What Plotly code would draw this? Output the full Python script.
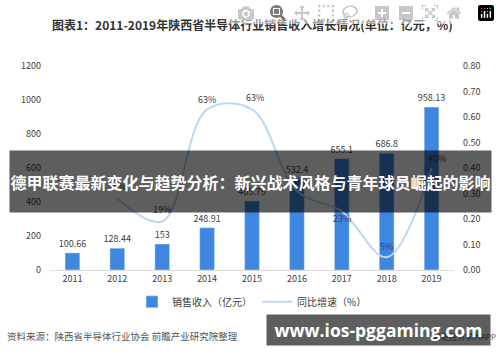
import plotly.graph_objects as go

years = ["2011", "2012", "2013", "2014", "2015", "2016", "2017", "2018", "2019"]
revenue = [100.66, 128.44, 153, 248.91, 405.79, 532.4, 655.1, 686.8, 958.13]
revenue_labels = ["100.66", "128.44", "153", "248.91", "405.79", "532.4", "655.1", "686.8", "958.13"]
growth_years = ["2012", "2013", "2014", "2015", "2016", "2017", "2018", "2019"]
growth = [0.28, 0.19, 0.63, 0.63, 0.31, 0.23, 0.05, 0.40]
growth_labels = ["28%", "19%", "63%", "63%", "31%", "23%", "5%", "40%"]
left_ticks = [0, 200, 400, 600, 800, 1000, 1200]
right_ticks = [0.0, 0.1, 0.2, 0.3, 0.4, 0.5, 0.6, 0.7, 0.8]

# label offsets (pixels) for the growth labels
label_dy = [12, 12, 10, 12, 10, -7, 11, 10]
label_dx = [0, 0, 0, 3, 0, 0, 0, 5]

FONT = "Noto Sans CJK SC, Noto Sans, sans-serif"
TXT = "#404040"

fig = go.Figure()
fig.add_trace(go.Bar(
    x=years, y=revenue, name="销售收入（亿元）",
    marker=dict(color="#3f86e0"), width=0.33,
    text=revenue_labels, textposition="outside", cliponaxis=False, constraintext="none",
    textfont=dict(size=9, color=TXT, family=FONT),
))
fig.add_trace(go.Scatter(
    x=growth_years, y=growth, name="同比增速（%）", yaxis="y2",
    mode="lines", line=dict(color="#bcd6f6", width=2, shape="spline", smoothing=1.0),
))

annotations = []
for yr, g, lab, dy, dx in zip(growth_years, growth, growth_labels, label_dy, label_dx):
    annotations.append(dict(text=lab, x=years.index(yr), y=g, xref="x", yref="y2",
                            yshift=dy, xshift=dx, showarrow=False,
                            font=dict(size=9, color=TXT, family=FONT)))

annotations += [
    dict(text="<b>图表1：2011-2019年陕西省半导体行业销售收入增长情况(单位：亿元，%)</b>",
         xref="paper", yref="paper", x=0.5, y=1.0, yshift=42, xanchor="center",
         yanchor="middle", showarrow=False, font=dict(size=12, color="#333333", family=FONT)),
    dict(text="资料来源：陕西省半导体行业协会 前瞻产业研究院整理",
         xref="paper", yref="paper", x=-0.111, y=0, yshift=-66, xanchor="left",
         yanchor="middle", showarrow=False, font=dict(size=9.5, color="#555555", family=FONT)),
    dict(text="前瞻经济学人APP", xref="paper", yref="paper", x=1.11, y=0, yshift=-66,
         xanchor="right", yanchor="middle", showarrow=False,
         font=dict(size=8, color="#555555", family=FONT)),
    # overlay banner (drawn last so it covers labels beneath)
    dict(text="<b>德甲联赛最新变化与趋势分析：新兴战术风格与青年球员崛起的影响</b>",
         xref="paper", yref="paper", x=0.4975, y=0.433, xanchor="center", yanchor="middle",
         width=481, height=61, bgcolor="rgba(0,0,0,0.63)", borderpad=0, showarrow=False,
         font=dict(size=16, color="white", family=FONT)),
    dict(text="<b>www.ios-pggaming.com</b>", xref="paper", yref="paper",
         x=0.814, y=-0.294, xanchor="center", yanchor="middle",
         width=223, height=30, bgcolor="rgba(0,0,0,0.63)", borderpad=0, showarrow=False,
         font=dict(size=17.5, color="white", family="Open Sans, sans-serif")),
]

fig.update_layout(
    width=500, height=362,
    margin=dict(l=50, r=46, t=66, b=92, autoexpand=False),
    paper_bgcolor="white", plot_bgcolor="white",
    font=dict(family=FONT, size=9, color=TXT),
    showlegend=True,
    legend=dict(orientation="h", x=0.5, xanchor="center", y=-0.085, yanchor="top",
                font=dict(size=10, color=TXT, family=FONT), itemwidth=30, traceorder="normal"),
    xaxis=dict(type="category", categoryorder="array", categoryarray=years,
               range=[-0.5, len(years) - 0.5], showline=True, linecolor="#d9d9d9", linewidth=1,
               ticks="", tickfont=dict(size=9, color=TXT), showgrid=False, automargin=False),
    yaxis=dict(range=[0, 1200], tickvals=left_ticks, showgrid=False, zeroline=False,
               showline=False, tickfont=dict(size=9, color=TXT), ticklabelstandoff=8,
               automargin=False),
    yaxis2=dict(range=[0, 0.8], tickvals=right_ticks, tickformat=".2f", overlaying="y",
                side="right", showgrid=False, zeroline=False, showline=False,
                tickfont=dict(size=9, color=TXT), ticklabelstandoff=8, automargin=False),
    annotations=annotations,
)

fig.write_html("out.html", post_script="document.body.style.margin='0';")
